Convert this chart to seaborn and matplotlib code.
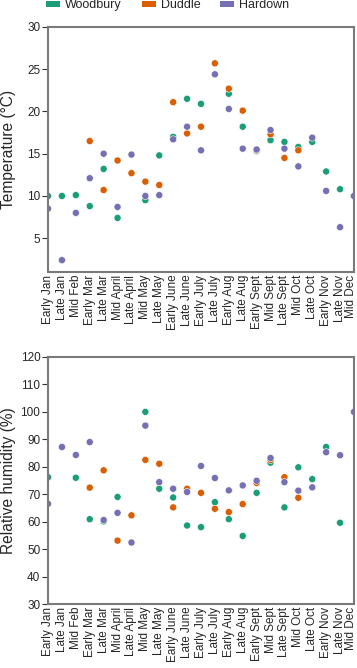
import numpy as np
import pandas as pd
import matplotlib
matplotlib.use("Agg")
import matplotlib.pyplot as plt
import matplotlib.transforms as mtransforms
from matplotlib.patches import Patch
import seaborn as sns

nan = np.nan

periods = ["Early Jan", "Late Jan", "Mid Feb", "Early Mar", "Late Mar", "Mid April",
           "Late April", "Mid May", "Late May", "Early June", "Late June", "Early July",
           "Late July", "Early Aug", "Late Aug", "Early Sept", "Mid Sept", "Late Sept",
           "Mid Oct", "Late Oct", "Early Nov", "Late Nov", "Mid Dec"]
sites = ["Woodbury", "Duddle", "Hardown"]

# temperature (°C)
temp_woodbury = [10.0, 10.0, 10.1, 8.8, 13.2, 7.4, nan, 9.5, 14.8, 17.0, 21.5, 20.9,
                 nan, 22.1, 18.2, 15.3, 16.6, 16.4, 15.8, 16.4, 12.9, 10.8, 10.0]
temp_duddle = [nan, nan, nan, 16.5, 10.7, 14.2, 12.7, 11.7, 11.3, 21.1, 17.4, 18.2,
               25.7, 22.7, 20.1, 15.4, 17.3, 14.5, 15.4, nan, nan, nan, nan]
temp_hardown = [8.5, 2.4, 8.0, 12.1, 15.0, 8.7, 14.9, 10.0, 10.1, 16.7, 18.2, 15.4,
                24.4, 20.3, 15.6, 15.5, 17.8, 15.6, 13.5, 16.9, 10.6, 6.3, 10.0]

# relative humidity (%)
rh_woodbury = [76.2, nan, 76.0, 60.9, 60.1, 69.0, nan, 100.0, 72.0, 68.8, 58.6, 58.0,
               67.1, 60.9, 54.8, 70.5, 81.5, 65.2, 79.8, 75.5, 87.2, 59.6, nan]
rh_duddle = [nan, nan, nan, 72.4, 78.7, 53.1, 62.3, 82.5, 81.1, 65.2, 72.0, 70.5,
             64.7, 63.5, 66.4, 74.1, 82.5, 76.2, 68.7, nan, nan, nan, nan]
rh_hardown = [66.5, 87.2, 84.3, 89.0, 60.6, 63.2, 52.4, 95.0, 74.4, 72.0, 70.8, 80.3,
              75.9, 71.4, 73.2, 74.9, 83.2, 74.4, 71.3, 72.5, 85.3, 84.2, 100.0]

colors = ["#1b9e77", "#d95f02", "#7570b3"]


def long_frame(series):
    parts = []
    for site, vals in zip(sites, series):
        parts.append(pd.DataFrame({"period": periods, "value": vals, "site": site}))
    df = pd.concat(parts, ignore_index=True).dropna()
    df["period"] = pd.Categorical(df["period"], categories=periods, ordered=True)
    return df


sns.set_style("white")
plt.rcParams["font.family"] = ["Liberation Sans", "DejaVu Sans"]

fig = plt.figure(figsize=(3.57, 6.68), dpi=100)
ax1 = fig.add_axes([0.1345, 0.5928, 0.857, 0.3668])
ax2 = fig.add_axes([0.1345, 0.0958, 0.857, 0.3698])

panels = [
    (ax1, long_frame([temp_woodbury, temp_duddle, temp_hardown]), "Temperature (°C)",
     (1, 30), [5, 10, 15, 20, 25, 30]),
    (ax2, long_frame([rh_woodbury, rh_duddle, rh_hardown]), "Relative humidity (%)",
     (30, 120), list(range(30, 121, 10))),
]

for ax, df, label, ylim, yticks in panels:
    sns.scatterplot(data=df, x="period", y="value", hue="site", hue_order=sites,
                    palette=colors, s=26, edgecolor="white", linewidth=0.4,
                    legend=False, ax=ax)
    ax.set_xlim(0, len(periods) - 1)
    ax.set_ylim(*ylim)
    ax.set_yticks(yticks)
    ax.set_xticks(range(len(periods)))
    ax.set_xticklabels(periods, rotation=90, fontsize=8.5)
    ax.set_xlabel("")
    ax.set_ylabel(label, fontsize=11.2)
    ax.yaxis.set_label_coords(-0.105, 0.5)
    ax.tick_params(axis="y", left=True, length=4, width=0.8, color="#333333",
                   labelsize=8.5, pad=1.5)
    ax.tick_params(axis="x", bottom=False, length=0, pad=2)
    # nudge the last label so it stays inside the figure
    last = ax.get_xticklabels()[-1]
    last.set_transform(last.get_transform() +
                       mtransforms.ScaledTranslation(-3 / 100, 0, fig.dpi_scale_trans))
    for side, sp in ax.spines.items():
        sp.set_visible(True)
        sp.set_color("#7a7a7a")
        sp.set_linewidth(1.5)

handles = [Patch(facecolor=c, edgecolor="none", label=s) for c, s in zip(colors, sites)]
fig.legend(handles=handles, loc="upper center", bbox_to_anchor=(0.47, 1.012), ncol=3,
           frameon=False, fontsize=9, handlelength=1.1, handleheight=0.45,
           handletextpad=0.4, columnspacing=1.6, borderpad=0.1)

fig.savefig("out.png", dpi=100)
